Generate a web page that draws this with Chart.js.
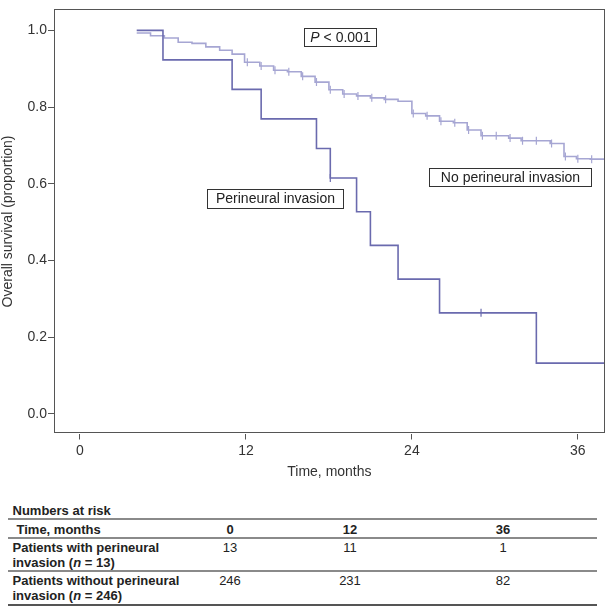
<!DOCTYPE html>
<html>
<head>
<meta charset="utf-8">
<title>Overall survival by perineural invasion</title>
<style>
  body {
    margin: 0;
    background: #fff;
    font-family: 'Liberation Sans', Arial, sans-serif;
    color: #222;
  }
  #wrap {
    position: relative;
    width: 610px;
    height: 606px;
    overflow: hidden;
  }
  #km {
    position: absolute;
    left: 0;
    top: 0;
  }
  .cell {
    position: absolute;
    font-size: 13px;
    line-height: 15px;
    white-space: nowrap;
  }
  .b { font-weight: bold; }
  .rule {
    position: absolute;
    left: 8px;
    width: 589px;
    background: #8a8a8a;
  }
</style>
</head>
<body>
<div id="wrap">
  <canvas id="km" width="610" height="490"></canvas>
</div>

<script src="https://cdn.jsdelivr.net/npm/chart.js@4.4.1/dist/chart.umd.min.js"></script>
<script>
// survival steps (time in months, proportion surviving)
var pniTime = [4.1, 6.0, 11.0, 13.1, 17.1, 18.1, 20.0, 21.0, 23.0, 26.0, 33.0, 37.95];
var pniSurv = [1.0, 0.923, 0.846, 0.769, 0.692, 0.615, 0.527, 0.439, 0.351, 0.263, 0.132, 0.132];
var pniCensorTime = [18.1, 29.0];
var pniCensorSurv = [0.615, 0.263];

var noPniTime = [4.1, 5.1, 6.1, 7.1, 8.1, 9.1, 10.1, 11.0, 11.9, 13.0, 14.0, 15.0, 16.0, 17.0, 18.0, 19.0,
                 20.0, 21.0, 22.0, 23.0, 24.0, 25.0, 26.0, 27.0, 28.0, 29.0, 31.0, 31.9, 34.0, 35.0, 35.9, 36.9, 37.95];
var noPniSurv = [0.993, 0.986, 0.980, 0.969, 0.966, 0.957, 0.948, 0.938, 0.917, 0.907, 0.896, 0.892, 0.880, 0.865, 0.845, 0.834,
                 0.829, 0.824, 0.820, 0.815, 0.783, 0.777, 0.763, 0.759, 0.740, 0.725, 0.719, 0.712, 0.705, 0.671, 0.665, 0.664, 0.664];
var noPniCensorTime = [12.1, 13.1, 14.1, 15.1, 16.1, 17.1, 18.1, 19.1, 20.1, 21.1, 22.1, 24.1, 25.1, 26.1, 27.1,
                       28.1, 29.1, 30.1, 31.1, 32.0, 33.0, 34.1, 35.1, 36.0, 37.0];
var noPniCensorSurv = [0.917, 0.907, 0.896, 0.892, 0.880, 0.865, 0.845, 0.834, 0.829, 0.824, 0.820, 0.783, 0.777, 0.763, 0.759,
                       0.740, 0.725, 0.725, 0.719, 0.712, 0.712, 0.705, 0.671, 0.665, 0.664];

var xTicks = [0, 12, 24, 36];
var yTicks = [0, 0.2, 0.4, 0.6, 0.8, 1.0];

// numbers at risk table
var riskTimes = [0, 12, 36];
var riskPni = [13, 11, 1];
var riskNoPni = [246, 231, 82];

var darkBlue = '#6a6aae';
var lightBlue = '#a6a6d3';
var axisGrey = '#555555';
var fontFam = "'Liberation Sans', Arial, sans-serif";

function pts(xs, ys) {
  return xs.map(function(t, i) { return { x: t, y: ys[i] }; });
}

// frame round the plot + the three boxed labels
var framePlugin = {
  id: 'frame',
  afterDraw: function(chart) {
    var ctx = chart.ctx;
    var a = chart.chartArea;
    ctx.save();
    ctx.strokeStyle = axisGrey;
    ctx.lineWidth = 1;
    ctx.strokeRect(Math.round(a.left) + 0.5, Math.round(a.top) + 0.5,
      Math.round(a.right - a.left) - 1, Math.round(a.bottom - a.top) - 1);

    ctx.font = '14px ' + fontFam;
    ctx.textBaseline = 'middle';
    ctx.fillStyle = '#222';
    ctx.strokeStyle = '#333';

    // P value box, P in italics
    ctx.strokeRect(304.5, 28.5, 72, 18);
    ctx.font = 'italic 14px ' + fontFam;
    var pw = ctx.measureText('P').width;
    ctx.font = '14px ' + fontFam;
    var rest = ' < 0.001';
    var rw = ctx.measureText(rest).width;
    var sx = 340.5 - (pw + rw) / 2;
    ctx.textAlign = 'left';
    ctx.font = 'italic 14px ' + fontFam;
    ctx.fillText('P', sx, 38);
    ctx.font = '14px ' + fontFam;
    ctx.fillText(rest, sx + pw, 38);

    ctx.textAlign = 'center';
    ctx.strokeRect(207.5, 189.5, 136, 19);
    ctx.fillText('Perineural invasion', 275.5, 199.5);

    ctx.strokeRect(429.5, 168.5, 162, 18);
    ctx.fillText('No perineural invasion', 510.5, 178);
    ctx.restore();
  }
};

var ctx = document.getElementById('km').getContext('2d');
var kmChart = new Chart(ctx, {
  type: 'line',
  data: {
    datasets: [
      {
        label: 'Perineural invasion',
        data: pts(pniTime, pniSurv),
        stepped: true,
        borderColor: darkBlue,
        borderWidth: 1.6,
        pointRadius: 0,
        fill: false,
        order: 1
      },
      {
        label: 'No perineural invasion',
        data: pts(noPniTime, noPniSurv),
        stepped: true,
        borderColor: lightBlue,
        borderWidth: 1.6,
        pointRadius: 0,
        fill: false,
        order: 3
      },
      {
        label: 'censored (perineural)',
        data: pts(pniCensorTime, pniCensorSurv),
        showLine: false,
        pointStyle: 'line',
        rotation: 90,
        pointRadius: 4,
        pointBorderWidth: 1.2,
        pointBorderColor: darkBlue,
        order: 0
      },
      {
        label: 'censored (no perineural)',
        data: pts(noPniCensorTime, noPniCensorSurv),
        showLine: false,
        pointStyle: 'line',
        rotation: 90,
        pointRadius: 4,
        pointBorderWidth: 1.2,
        pointBorderColor: lightBlue,
        order: 2
      }
    ]
  },
  options: {
    responsive: false,
    animation: false,
    devicePixelRatio: 1,
    layout: { padding: { left: 0, right: 2, top: 1, bottom: 0 } },
    plugins: {
      legend: { display: false },
      tooltip: { enabled: false }
    },
    scales: {
      x: {
        type: 'linear',
        min: -1.88,
        max: 37.95,
        afterBuildTicks: function(s) {
          s.ticks = xTicks.map(function(v) { return { value: v }; });
        },
        afterFit: function(s) { s.height = 56.5; },
        grid: { drawOnChartArea: false, drawTicks: true, tickLength: 6, color: axisGrey },
        border: { display: false },
        ticks: {
          padding: 3,
          color: '#333',
          font: { family: fontFam, size: 14 },
          maxRotation: 0,
          callback: function(v) { return String(v); }
        },
        title: {
          display: true,
          text: 'Time, months',
          color: '#333',
          font: { family: fontFam, size: 14 },
          padding: { top: 0, bottom: 9.6 }
        }
      },
      y: {
        min: -0.0517,
        max: 1.0547,
        afterBuildTicks: function(s) {
          s.ticks = yTicks.map(function(v) { return { value: v }; });
        },
        afterFit: function(s) { s.width = 54; },
        grid: { drawOnChartArea: false, drawTicks: true, tickLength: 6, color: axisGrey },
        border: { display: false },
        ticks: {
          padding: 1,
          color: '#333',
          font: { family: fontFam, size: 14 },
          callback: function(v) { return v.toFixed(1); }
        },
        title: {
          display: true,
          text: 'Overall survival (proportion)',
          color: '#333',
          font: { family: fontFam, size: 14 },
          padding: { top: 0, bottom: 0 }
        }
      }
    }
  },
  plugins: [framePlugin]
});

// numbers at risk, laid out under the chart
var wrap = document.getElementById('wrap');
var colX = [230, 350, 503];

function cell(html, left, top, cls, centred) {
  var d = document.createElement('div');
  d.className = 'cell ' + (cls || '');
  d.innerHTML = html;
  d.style.top = top + 'px';
  if (centred) {
    d.style.left = (left - 40) + 'px';
    d.style.width = '80px';
    d.style.textAlign = 'center';
  } else {
    d.style.left = left + 'px';
  }
  wrap.appendChild(d);
}

function rule(top, h, colour) {
  var r = document.createElement('div');
  r.className = 'rule';
  r.style.top = top + 'px';
  r.style.height = h + 'px';
  if (colour) r.style.background = colour;
  wrap.appendChild(r);
}

cell('Numbers at risk', 12.5, 502.5, 'b');
rule(518, 2);
cell('Time, months', 16.5, 521.5, 'b');
riskTimes.forEach(function(t, i) { cell(String(t), colX[i], 521.5, 'b', true); });
rule(537, 1.5);
cell('Patients with perineural<br>invasion (<i>n</i> = 13)', 12.5, 539.5, 'b');
riskPni.forEach(function(n, i) { cell(String(n), colX[i], 539.5, '', true); });
rule(570, 2);
cell('Patients without perineural<br>invasion (<i>n</i> = 246)', 12.5, 572.5, 'b');
riskNoPni.forEach(function(n, i) { cell(String(n), colX[i], 572.5, '', true); });
rule(604, 2, '#555');
</script>
</body>
</html>
